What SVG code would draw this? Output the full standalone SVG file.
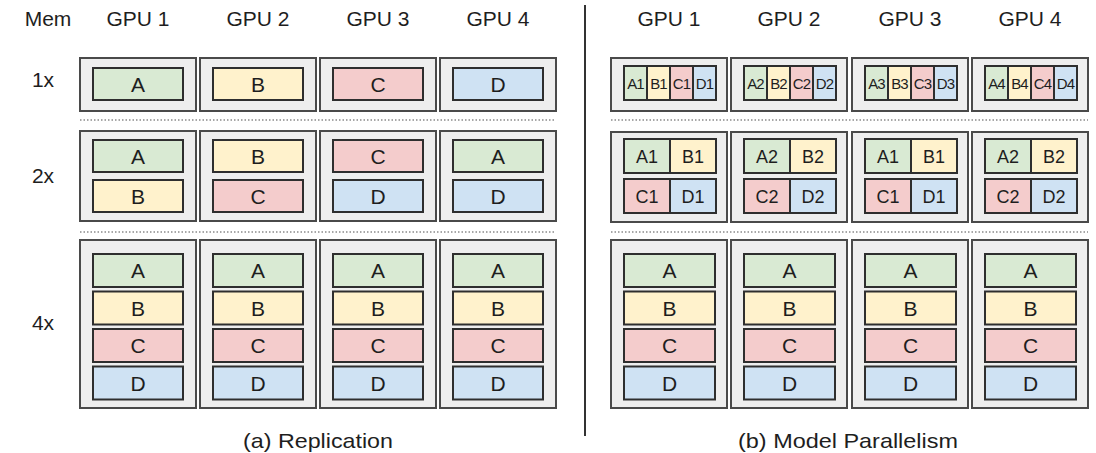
<svg xmlns="http://www.w3.org/2000/svg" width="1096" height="453" viewBox="0 0 1096 453">
<style>
text{font-family:"Liberation Sans",Arial,sans-serif;fill:#1e1e1e;text-anchor:middle}
.h{font-size:21px}
.l{font-size:21px}
.m{font-size:18px}
.s{font-size:15px;letter-spacing:-0.8px}
.gpu{fill:#eeeeee;stroke:#4a4a4a;stroke-width:2}
.b{stroke:#2e2e2e;stroke-width:2}
.A{fill:#d9ead3}.B{fill:#fff2cc}.C{fill:#f4cccc}.D{fill:#cfe2f3}
.dot{stroke:#8a8a8a;stroke-width:1.5;stroke-dasharray:1.5 2}
</style>
<rect width="1096" height="453" fill="#fff"/>
<g id="labels">
<text class="h" x="48" y="26">Mem</text>
<text class="h" x="138" y="26">GPU 1</text>
<text class="h" x="258" y="26">GPU 2</text>
<text class="h" x="378" y="26">GPU 3</text>
<text class="h" x="498" y="26">GPU 4</text>
<text class="h" x="669" y="26">GPU 1</text>
<text class="h" x="789" y="26">GPU 2</text>
<text class="h" x="910" y="26">GPU 3</text>
<text class="h" x="1030" y="26">GPU 4</text>
<text class="h" x="43" y="87">1x</text>
<text class="h" x="43" y="183">2x</text>
<text class="h" x="43" y="330">4x</text>
<text class="h" x="318" y="448" textLength="150" lengthAdjust="spacingAndGlyphs">(a) Replication</text>
<text class="h" x="848" y="448" textLength="220" lengthAdjust="spacingAndGlyphs">(b) Model Parallelism</text>
</g>
<g id="connectors">
<line x1="585" y1="5" x2="585" y2="436" stroke="#333" stroke-width="2"/>
<line class="dot" x1="80" y1="120" x2="556" y2="120"/>
<line class="dot" x1="80" y1="232" x2="556" y2="232"/>
<line class="dot" x1="611" y1="120" x2="1088" y2="120"/>
<line class="dot" x1="611" y1="232" x2="1088" y2="232"/>
</g>
<!-- Left 1x -->
<g id="rep-1x-gpu1"><rect class="gpu" x="80" y="58" width="116" height="53"/><rect class="b A" x="93" y="68" width="90" height="32"/><text class="l" x="138" y="91.5">A</text></g>
<g id="rep-1x-gpu2"><rect class="gpu" x="200" y="58" width="116" height="53"/><rect class="b B" x="213" y="68" width="90" height="32"/><text class="l" x="258" y="91.5">B</text></g>
<g id="rep-1x-gpu3"><rect class="gpu" x="320" y="58" width="116" height="53"/><rect class="b C" x="333" y="68" width="90" height="32"/><text class="l" x="378" y="91.5">C</text></g>
<g id="rep-1x-gpu4"><rect class="gpu" x="440" y="58" width="116" height="53"/><rect class="b D" x="453" y="68" width="90" height="32"/><text class="l" x="498" y="91.5">D</text></g>
<!-- Left 2x -->
<g id="rep-2x-gpu1"><rect class="gpu" x="80" y="131" width="116" height="90"/><rect class="b A" x="93" y="140" width="90" height="32"/><text class="l" x="138" y="163.5">A</text><rect class="b B" x="93" y="180" width="90" height="32"/><text class="l" x="138" y="203.5">B</text></g>
<g id="rep-2x-gpu2"><rect class="gpu" x="200" y="131" width="116" height="90"/><rect class="b B" x="213" y="140" width="90" height="32"/><text class="l" x="258" y="163.5">B</text><rect class="b C" x="213" y="180" width="90" height="32"/><text class="l" x="258" y="203.5">C</text></g>
<g id="rep-2x-gpu3"><rect class="gpu" x="320" y="131" width="116" height="90"/><rect class="b C" x="333" y="140" width="90" height="32"/><text class="l" x="378" y="163.5">C</text><rect class="b D" x="333" y="180" width="90" height="32"/><text class="l" x="378" y="203.5">D</text></g>
<g id="rep-2x-gpu4"><rect class="gpu" x="440" y="131" width="116" height="90"/><rect class="b A" x="453" y="140" width="90" height="32"/><text class="l" x="498" y="163.5">A</text><rect class="b D" x="453" y="180" width="90" height="32"/><text class="l" x="498" y="203.5">D</text></g>
<!-- Left 4x -->
<g id="rep-4x-gpu1"><rect class="gpu" x="80" y="240" width="116" height="168"/>
<rect class="b A" x="93" y="254" width="90" height="33"/><text class="l" x="138" y="278">A</text>
<rect class="b B" x="93" y="291.5" width="90" height="33"/><text class="l" x="138" y="315.5">B</text>
<rect class="b C" x="93" y="329" width="90" height="33"/><text class="l" x="138" y="353">C</text>
<rect class="b D" x="93" y="366.5" width="90" height="33"/><text class="l" x="138" y="390.5">D</text></g>
<g id="rep-4x-gpu2"><rect class="gpu" x="200" y="240" width="116" height="168"/>
<rect class="b A" x="213" y="254" width="90" height="33"/><text class="l" x="258" y="278">A</text>
<rect class="b B" x="213" y="291.5" width="90" height="33"/><text class="l" x="258" y="315.5">B</text>
<rect class="b C" x="213" y="329" width="90" height="33"/><text class="l" x="258" y="353">C</text>
<rect class="b D" x="213" y="366.5" width="90" height="33"/><text class="l" x="258" y="390.5">D</text></g>
<g id="rep-4x-gpu3"><rect class="gpu" x="320" y="240" width="116" height="168"/>
<rect class="b A" x="333" y="254" width="90" height="33"/><text class="l" x="378" y="278">A</text>
<rect class="b B" x="333" y="291.5" width="90" height="33"/><text class="l" x="378" y="315.5">B</text>
<rect class="b C" x="333" y="329" width="90" height="33"/><text class="l" x="378" y="353">C</text>
<rect class="b D" x="333" y="366.5" width="90" height="33"/><text class="l" x="378" y="390.5">D</text></g>
<g id="rep-4x-gpu4"><rect class="gpu" x="440" y="240" width="116" height="168"/>
<rect class="b A" x="453" y="254" width="90" height="33"/><text class="l" x="498" y="278">A</text>
<rect class="b B" x="453" y="291.5" width="90" height="33"/><text class="l" x="498" y="315.5">B</text>
<rect class="b C" x="453" y="329" width="90" height="33"/><text class="l" x="498" y="353">C</text>
<rect class="b D" x="453" y="366.5" width="90" height="33"/><text class="l" x="498" y="390.5">D</text></g>
<!-- Right 1x -->
<g id="mp-1x-gpu1"><rect class="gpu" x="611" y="58" width="116" height="53"/>
<rect class="b A" x="624" y="66" width="23" height="34"/><rect class="b B" x="647" y="66" width="23" height="34"/><rect class="b C" x="670" y="66" width="23" height="34"/><rect class="b D" x="693" y="66" width="23" height="34"/>
<text class="s" x="635.5" y="88.5">A1</text><text class="s" x="658.5" y="88.5">B1</text><text class="s" x="681.5" y="88.5">C1</text><text class="s" x="704.5" y="88.5">D1</text></g>
<g id="mp-1x-gpu2"><rect class="gpu" x="731" y="58" width="116" height="53"/>
<rect class="b A" x="744" y="66" width="23" height="34"/><rect class="b B" x="767" y="66" width="23" height="34"/><rect class="b C" x="790" y="66" width="23" height="34"/><rect class="b D" x="813" y="66" width="23" height="34"/>
<text class="s" x="755.5" y="88.5">A2</text><text class="s" x="778.5" y="88.5">B2</text><text class="s" x="801.5" y="88.5">C2</text><text class="s" x="824.5" y="88.5">D2</text></g>
<g id="mp-1x-gpu3"><rect class="gpu" x="852" y="58" width="116" height="53"/>
<rect class="b A" x="865" y="66" width="23" height="34"/><rect class="b B" x="888" y="66" width="23" height="34"/><rect class="b C" x="911" y="66" width="23" height="34"/><rect class="b D" x="934" y="66" width="23" height="34"/>
<text class="s" x="876.5" y="88.5">A3</text><text class="s" x="899.5" y="88.5">B3</text><text class="s" x="922.5" y="88.5">C3</text><text class="s" x="945.5" y="88.5">D3</text></g>
<g id="mp-1x-gpu4"><rect class="gpu" x="972" y="58" width="116" height="53"/>
<rect class="b A" x="985" y="66" width="23" height="34"/><rect class="b B" x="1008" y="66" width="23" height="34"/><rect class="b C" x="1031" y="66" width="23" height="34"/><rect class="b D" x="1054" y="66" width="23" height="34"/>
<text class="s" x="996.5" y="88.5">A4</text><text class="s" x="1019.5" y="88.5">B4</text><text class="s" x="1042.5" y="88.5">C4</text><text class="s" x="1065.5" y="88.5">D4</text></g>
<!-- Right 2x -->
<g id="mp-2x-gpu1"><rect class="gpu" x="611" y="132" width="116" height="90"/>
<rect class="b A" x="624" y="139" width="46" height="34"/><rect class="b B" x="670" y="139" width="46" height="34"/><rect class="b C" x="624" y="179" width="46" height="34"/><rect class="b D" x="670" y="179" width="46" height="34"/>
<text class="m" x="647" y="162.5">A1</text><text class="m" x="693" y="162.5">B1</text><text class="m" x="647" y="202.5">C1</text><text class="m" x="693" y="202.5">D1</text></g>
<g id="mp-2x-gpu2"><rect class="gpu" x="731" y="132" width="116" height="90"/>
<rect class="b A" x="744" y="139" width="46" height="34"/><rect class="b B" x="790" y="139" width="46" height="34"/><rect class="b C" x="744" y="179" width="46" height="34"/><rect class="b D" x="790" y="179" width="46" height="34"/>
<text class="m" x="767" y="162.5">A2</text><text class="m" x="813" y="162.5">B2</text><text class="m" x="767" y="202.5">C2</text><text class="m" x="813" y="202.5">D2</text></g>
<g id="mp-2x-gpu3"><rect class="gpu" x="852" y="132" width="116" height="90"/>
<rect class="b A" x="865" y="139" width="46" height="34"/><rect class="b B" x="911" y="139" width="46" height="34"/><rect class="b C" x="865" y="179" width="46" height="34"/><rect class="b D" x="911" y="179" width="46" height="34"/>
<text class="m" x="888" y="162.5">A1</text><text class="m" x="934" y="162.5">B1</text><text class="m" x="888" y="202.5">C1</text><text class="m" x="934" y="202.5">D1</text></g>
<g id="mp-2x-gpu4"><rect class="gpu" x="972" y="132" width="116" height="90"/>
<rect class="b A" x="985" y="139" width="46" height="34"/><rect class="b B" x="1031" y="139" width="46" height="34"/><rect class="b C" x="985" y="179" width="46" height="34"/><rect class="b D" x="1031" y="179" width="46" height="34"/>
<text class="m" x="1008" y="162.5">A2</text><text class="m" x="1054" y="162.5">B2</text><text class="m" x="1008" y="202.5">C2</text><text class="m" x="1054" y="202.5">D2</text></g>
<!-- Right 4x -->
<g id="mp-4x-gpu1"><rect class="gpu" x="611" y="240" width="116" height="168"/>
<rect class="b A" x="624" y="254" width="91" height="33"/><text class="l" x="669.5" y="278">A</text>
<rect class="b B" x="624" y="291.5" width="91" height="33"/><text class="l" x="669.5" y="315.5">B</text>
<rect class="b C" x="624" y="329" width="91" height="33"/><text class="l" x="669.5" y="353">C</text>
<rect class="b D" x="624" y="366.5" width="91" height="33"/><text class="l" x="669.5" y="390.5">D</text></g>
<g id="mp-4x-gpu2"><rect class="gpu" x="731" y="240" width="116" height="168"/>
<rect class="b A" x="744" y="254" width="91" height="33"/><text class="l" x="789.5" y="278">A</text>
<rect class="b B" x="744" y="291.5" width="91" height="33"/><text class="l" x="789.5" y="315.5">B</text>
<rect class="b C" x="744" y="329" width="91" height="33"/><text class="l" x="789.5" y="353">C</text>
<rect class="b D" x="744" y="366.5" width="91" height="33"/><text class="l" x="789.5" y="390.5">D</text></g>
<g id="mp-4x-gpu3"><rect class="gpu" x="852" y="240" width="116" height="168"/>
<rect class="b A" x="865" y="254" width="91" height="33"/><text class="l" x="910.5" y="278">A</text>
<rect class="b B" x="865" y="291.5" width="91" height="33"/><text class="l" x="910.5" y="315.5">B</text>
<rect class="b C" x="865" y="329" width="91" height="33"/><text class="l" x="910.5" y="353">C</text>
<rect class="b D" x="865" y="366.5" width="91" height="33"/><text class="l" x="910.5" y="390.5">D</text></g>
<g id="mp-4x-gpu4"><rect class="gpu" x="972" y="240" width="116" height="168"/>
<rect class="b A" x="985" y="254" width="91" height="33"/><text class="l" x="1030.5" y="278">A</text>
<rect class="b B" x="985" y="291.5" width="91" height="33"/><text class="l" x="1030.5" y="315.5">B</text>
<rect class="b C" x="985" y="329" width="91" height="33"/><text class="l" x="1030.5" y="353">C</text>
<rect class="b D" x="985" y="366.5" width="91" height="33"/><text class="l" x="1030.5" y="390.5">D</text></g>
</svg>
